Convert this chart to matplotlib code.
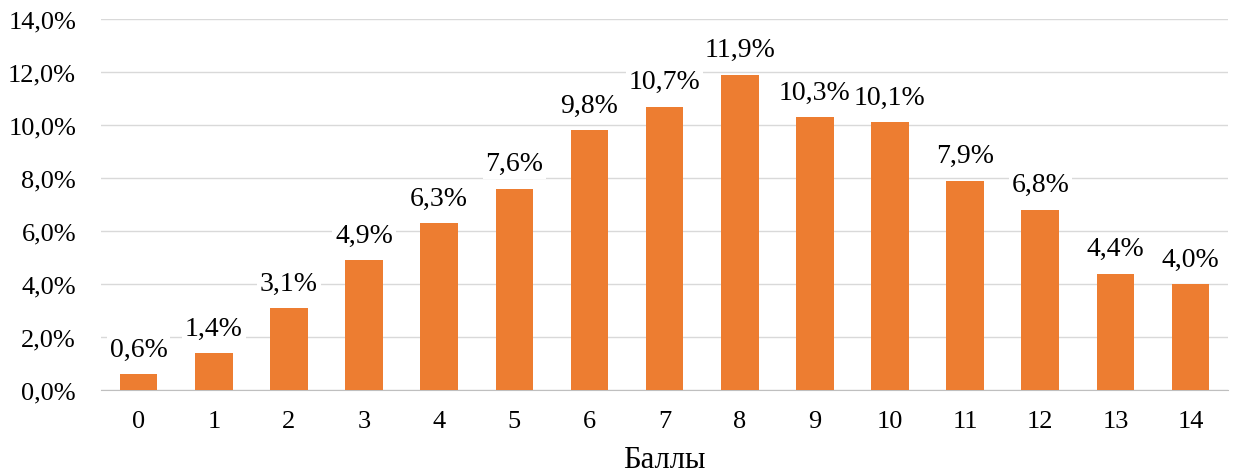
import matplotlib.pyplot as plt
import numpy as np

plt.rcParams['font.family'] = ['Liberation Serif', 'DejaVu Serif']

# Data
scores = [str(i) for i in range(15)]
shares = [0.6, 1.4, 3.1, 4.9, 6.3, 7.6, 9.8, 10.7, 11.9, 10.3, 10.1, 7.9, 6.8, 4.4, 4.0]
y_ticks = [0, 2, 4, 6, 8, 10, 12, 14]

fig = plt.figure(figsize=(12.33, 4.77), dpi=100)
ax = fig.add_axes([0.082, 0.180, 0.914, 0.778])

x = np.arange(len(scores))
ax.bar(x, shares, width=0.5, color="#ED7D31", zorder=3)

for xi, v in zip(x, shares):
    ax.annotate(f"{v:.1f}%".replace(".", ","), (xi, v), xytext=(0, 9),
                textcoords="offset points", ha="center", va="bottom",
                fontsize=20, zorder=4,
                bbox=dict(boxstyle="square,pad=0.1", fc="white", ec="none"))

ax.set_xlim(-0.5, len(scores) - 0.5)
ax.set_ylim(0, 14)
ax.set_yticks(y_ticks)
ax.set_yticklabels([f"{t:.1f}%".replace(".", ",") for t in y_ticks])
ax.set_xticks(x)
ax.set_xticklabels(scores)
ax.tick_params(axis="both", labelsize=19, length=0)
ax.tick_params(axis="x", pad=14)
ax.tick_params(axis="y", pad=18)
ax.grid(axis="y", color="#D9D9D9", linewidth=1, zorder=0)
for s in ["top", "right", "left"]:
    ax.spines[s].set_visible(False)
ax.spines["bottom"].set_color("#BFBFBF")
ax.set_xlabel("Баллы", fontsize=22, labelpad=10)

fig.savefig("out.png", dpi=100)
